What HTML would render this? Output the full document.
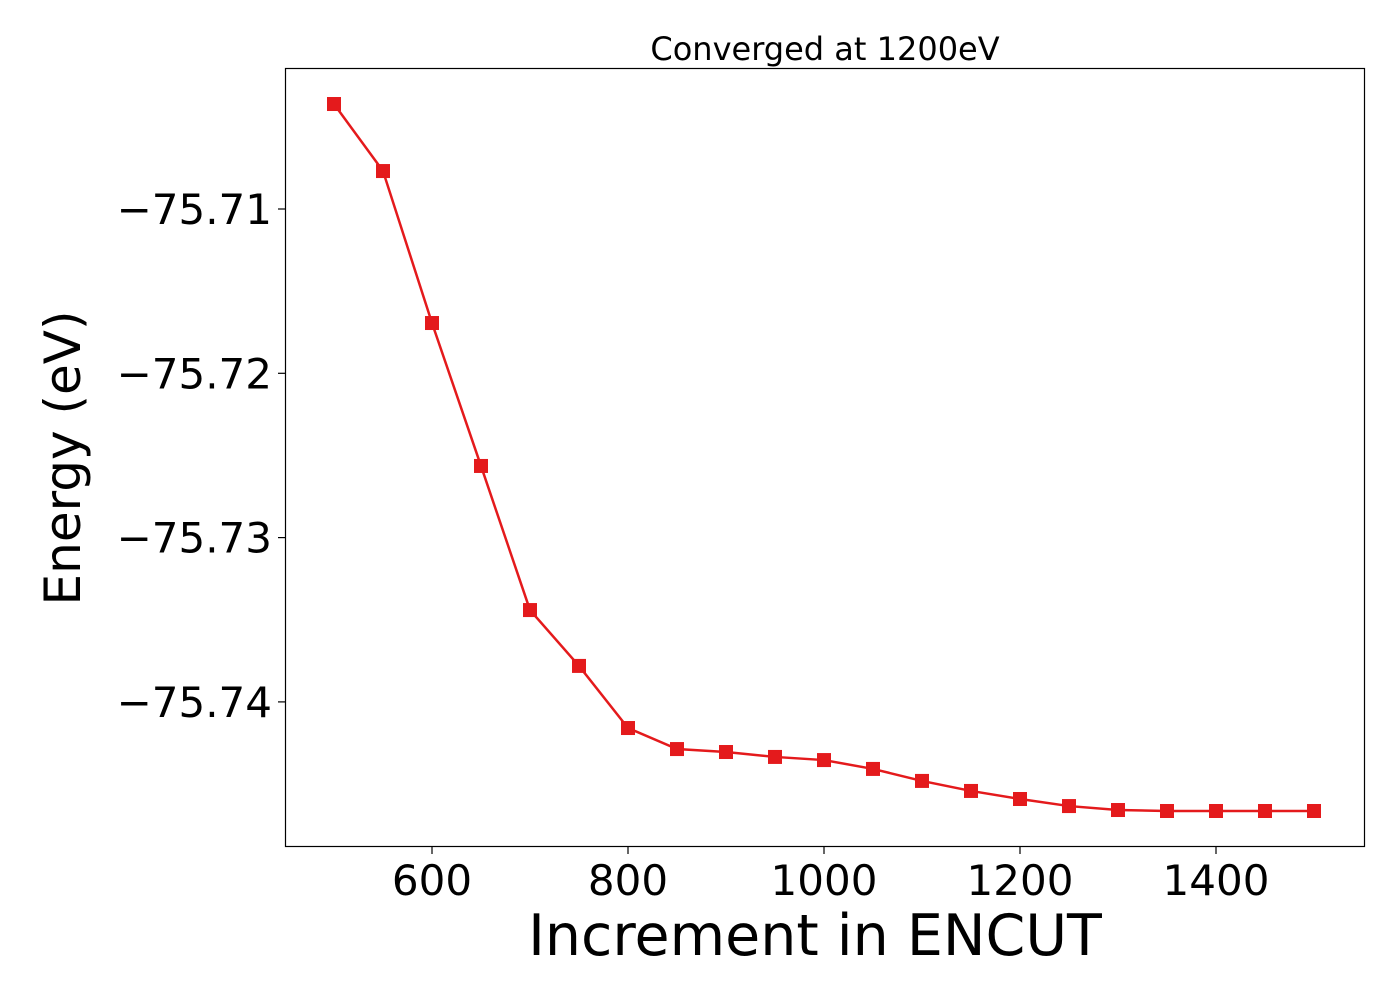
<!DOCTYPE html>
<html><head><meta charset="utf-8"><style>
body{margin:0;background:#fff}
svg text{font-family:"DejaVu Sans","Liberation Sans",sans-serif;fill:#000}
</style></head><body>
<svg id="chart" width="1400" height="1000">
<text x="825" y="60" font-size="32" text-anchor="middle">Converged at 1200eV</text>
<rect x="285.5" y="68.5" width="1079" height="778" fill="none" stroke="#000" stroke-width="1.2"/>
<g id="xticks"></g><g id="yticks"></g>
<text x="815" y="955" font-size="57" text-anchor="middle">Increment in ENCUT</text>
<text transform="translate(80,458) rotate(-90)" font-size="50" text-anchor="middle">Energy (eV)</text>
<g id="series"></g>
</svg>
<script>
const encut=[500,550,600,650,700,750,800,850,900,950,1000,1050,1100,1150,1200,1250,1300,1350,1400,1450,1500];
const energy=[-75.70361,-75.70769,-75.71694,-75.72564,-75.73441,-75.73781,-75.74159,-75.74287,-75.74305,-75.74335,-75.74354,-75.74408,-75.74481,-75.74542,-75.74591,-75.74634,-75.74658,-75.74664,-75.74664,-75.74664,-75.74664];
const xTicks=[600,800,1000,1200,1400];
const yTicks=[-75.71,-75.72,-75.73,-75.74];
const yTickLabels=["−75.71","−75.72","−75.73","−75.74"];
const NS="http://www.w3.org/2000/svg";
const X=v=>334+(v-500)*0.98;
const Y=v=>209+(-75.71-v)*16430;
function mk(t,a,p){const e=document.createElementNS(NS,t);for(const k in a)e.setAttribute(k,a[k]);p.appendChild(e);return e;}
const xg=document.getElementById('xticks');
xTicks.forEach(t=>{
 const l=mk('line',{x1:X(t),x2:X(t),y1:847,y2:854,stroke:'#000','stroke-width':1.2},xg);
 
 
 const tx=mk('text',{x:X(t),y:895,'font-size':42,'text-anchor':'middle'},xg);
 tx.textContent=t;
 
 
});
const yg=document.getElementById('yticks');
yTicks.forEach((t,i)=>{
 const l=mk('line',{x1:278,x2:285,y1:Y(t),y2:Y(t),stroke:'#000','stroke-width':1.2},yg);
 
 
 const tx=mk('text',{x:272,y:Y(t)+15,'font-size':42,'text-anchor':'end'},yg);
 tx.textContent=yTickLabels[i];
 
 
});
const sg=document.getElementById('series');
const line=mk('polyline',{points:encut.map((v,i)=>X(v)+','+Y(energy[i])).join(' '),fill:'none',stroke:'#e41a1c','stroke-width':2.5},sg);


encut.forEach((v,i)=>{
 const r=mk('rect',{x:X(v)-7,y:Y(energy[i])-7,width:14,height:14,fill:'#e41a1c'},sg);
 
 
});
</script>
</body></html>
